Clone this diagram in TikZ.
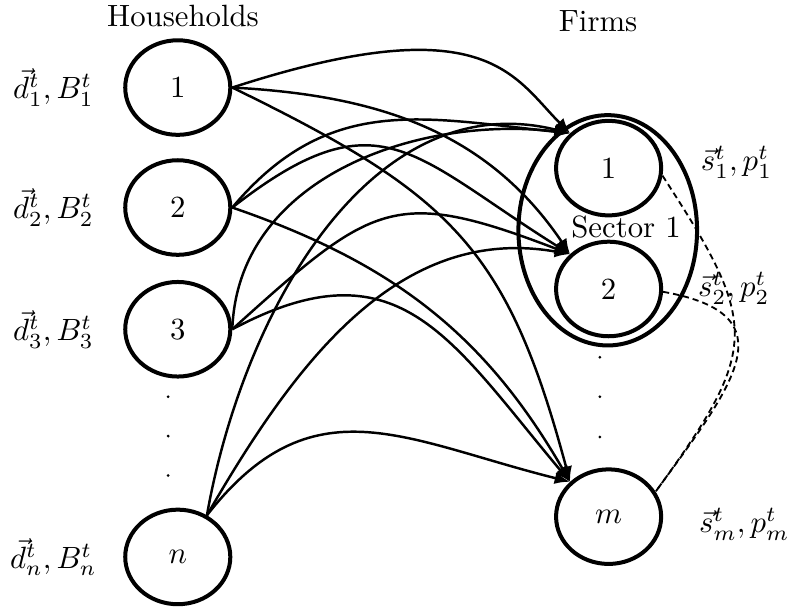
\documentclass[tikz,border=0pt]{standalone}
\usepackage{amsmath, amsfonts, tikz}
\usetikzlibrary{shapes.geometric, arrows.meta}
\tikzset{
agent/.style={draw, ellipse, line width=1.3pt, minimum width=1.2cm, minimum height=1.08cm, inner sep=0pt},
sector/.style={draw, ellipse, line width=1.3pt, minimum width=2.04cm, minimum height=2.63cm, inner sep=0pt},
buy/.style={thick, -{Latex[length=5pt,width=4pt]}},
link/.style={semithick, dash pattern=on 2pt off 1.3pt}
}

\begin{document}
\begin{tikzpicture}
\useasboundingbox (0,0) rectangle (9.01,-6.94);

\node[sector] (sec) at (6.94,-2.63) {};
\node (sl) at (7.15,-2.59) {Sector 1};

\node (hh) at (2.09,-0.18) {Households};
\node (ff) at (6.83,-0.24) {Firms};

\node[agent] (h1) at (2.03,-1.00) {1};
\node[agent] (h2) at (2.03,-2.37) {2};
\node[agent] (h3) at (2.03,-3.76) {3};
\node[agent] (hn) at (2.03,-6.36) {$n$};

\node[agent] (f1) at (6.95,-1.92) {1};
\node[agent] (f2) at (6.95,-3.30) {2};
\node[agent] (fm) at (6.95,-5.90) {$m$};

\node (d1) at (0.61,-1.00) {$\vec{d}_1^t, B_1^t$};
\node (d2) at (0.61,-2.37) {$\vec{d}_2^t, B_2^t$};
\node (d3) at (0.61,-3.76) {$\vec{d}_3^t, B_3^t$};
\node (dn) at (0.61,-6.36) {$\vec{d}_n^t, B_n^t$};

\node (s1) at (8.41,-1.85) {$\vec{s}_1^t, p_1^t$};
\node (s2) at (8.38,-3.29) {$\vec{s}_2^t, p_2^t$};
\node (sm) at (8.50,-5.99) {$\vec{s}_m^t, p_m^t$};

\foreach \y in {-4.53,-4.98,-5.43}
  \fill (1.92,\y) circle [radius=0.5pt];
\foreach \y in {-4.08,-4.53,-4.99}
  \fill (6.85,\y) circle [radius=0.5pt];

\draw[buy] (h1.east) to[out=18,in=135,out looseness=2,in looseness=0.6] (f1.north west);
\draw[buy] (h1.east) to[out=-3,in=124] (f2.north west);
\draw[buy] (h1.east) to[out=-26,in=105,looseness=1.2] (fm.north west);

\draw[buy] (h2.east) to[out=50,in=174,looseness=1.1] (f1.north west);
\draw[buy] (h2.east) to[out=38,in=148,looseness=1.4] (f2.north west);
\draw[buy] (h2.east) to[out=-19,in=120] (fm.north west);

\draw[buy] (h3.east) to[out=88,in=173] (f1.north west);
\draw[buy] (h3.east) to[out=42,in=159,looseness=1.4] (f2.north west);
\draw[buy] (h3.east) to[out=28,in=130,looseness=1.3] (fm.north west);

\draw[buy] (hn.55) to[out=80,in=166] (f1.north west);
\draw[buy] (hn.55) to[out=60,in=170] (f2.north west);
\draw[buy] (hn.55) to[out=52,in=166,looseness=1.2] (fm.north west);

\draw[link] (f1.-8) to[out=-57,in=54,looseness=1.44] (fm.28);
\draw[link] (f2.-3) to[out=-10,in=54,looseness=1.67] (fm.28);

\end{tikzpicture}
\end{document}
